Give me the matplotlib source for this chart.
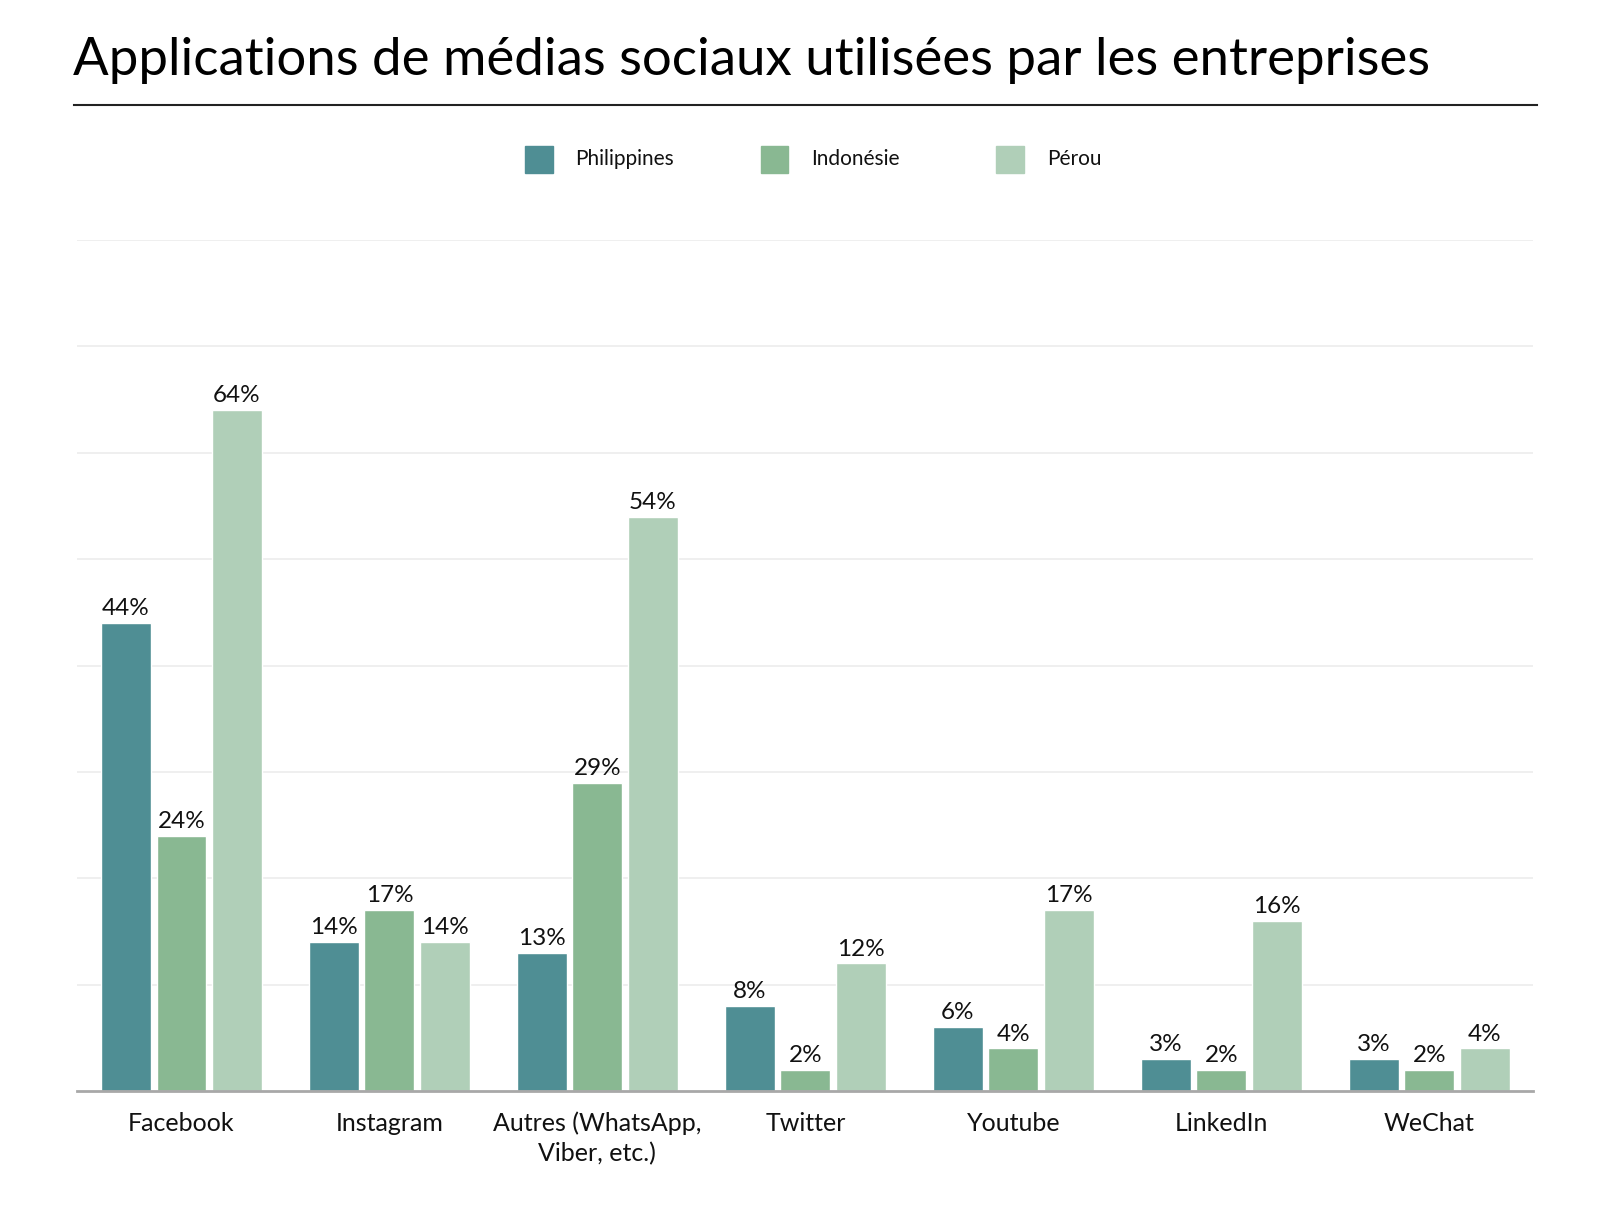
import numpy as np
import matplotlib
matplotlib.use("Agg")
import matplotlib.pyplot as plt
from matplotlib.patches import Rectangle
from matplotlib.lines import Line2D

plt.rcParams["font.family"] = ["Lato", "DejaVu Sans"]

# Data
categories = ["Facebook", "Instagram", "Autres (WhatsApp,\nViber, etc.)", "Twitter",
              "Youtube", "LinkedIn", "WeChat"]
series_names = ["Philippines", "Indonésie", "Pérou"]
philippines = [44, 14, 13, 8, 6, 3, 3]
indonesie = [24, 17, 29, 2, 4, 2, 2]
perou = [64, 14, 54, 12, 17, 16, 4]
colors = ["#4f8e94", "#89b892", "#b0cfb8"]

fig = plt.figure(figsize=(16.14, 12.12), dpi=100)
ax = fig.add_axes([0.048, 0.0998, 0.902, 0.7022])

x = np.arange(len(categories))
step = 0.267
for i, vals in enumerate([philippines, indonesie, perou]):
    bars = ax.bar(x + (i - 1) * step, vals, width=0.24, color=colors[i],
                  edgecolor="white", linewidth=1.0, zorder=3, label=series_names[i])
    for b, v in zip(bars, vals):
        ax.text(b.get_x() + b.get_width() / 2, v + 0.35, f"{v}%", ha="center",
                va="bottom", fontsize=17.5, color="#111111", zorder=4)

ax.set_xlim(-0.5, len(categories) - 0.5)
ax.set_ylim(0, 80)
ax.set_yticks(np.arange(10, 81, 10))
ax.yaxis.grid(True, color="#ececec", linewidth=1.2, zorder=0)
ax.tick_params(axis="y", length=0, labelleft=False)
ax.set_xticks(x)
ax.set_xticklabels(categories, fontsize=18, color="#111111", linespacing=1.35)
ax.tick_params(axis="x", length=0, pad=15)
for s in ["top", "right", "left"]:
    ax.spines[s].set_visible(False)
ax.spines["bottom"].set_color("#a8a8a8")
ax.spines["bottom"].set_linewidth(2)
ax.spines["bottom"].set_zorder(5)

# Title and rule
fig.text(0.045, 0.950, "Applications de médias sociaux utilisées par les entreprises",
         fontsize=38, color="#000000", ha="left", va="center")
fig.add_artist(Line2D([0.046, 0.952], [0.9135, 0.9135], color="#222222", linewidth=1.5))

# Legend (fixed pitch between entries)
leg_x0 = 0.3253
leg_pitch = 0.146
leg_y = 0.8684
sq_w, sq_h = 0.0172, 0.0229
for i, name in enumerate(series_names):
    lx = leg_x0 + i * leg_pitch
    fig.add_artist(Rectangle((lx, leg_y - sq_h / 2), sq_w, sq_h, color=colors[i],
                             transform=fig.transFigure))
    fig.text(lx + 0.0312, leg_y, name, fontsize=15, color="#111111",
             ha="left", va="center")

fig.savefig("out.png", dpi=100)
